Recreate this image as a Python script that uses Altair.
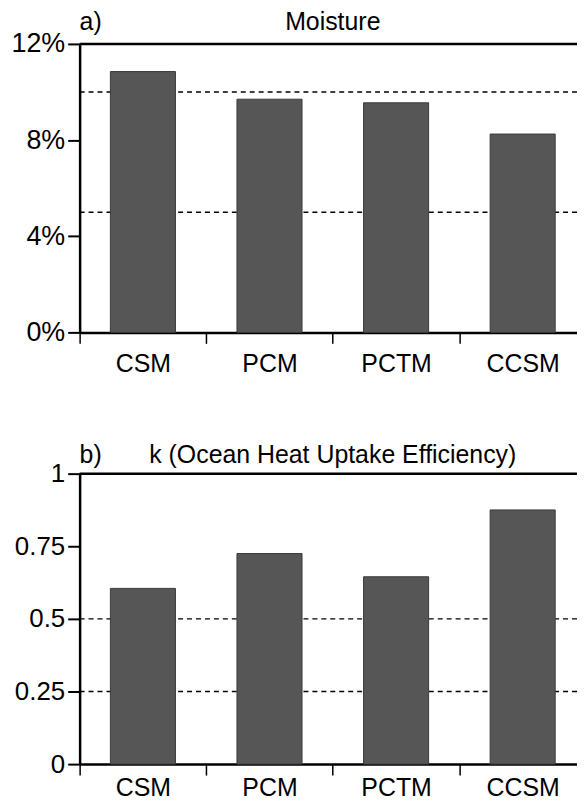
import altair as alt
import pandas as pd

models = ["CSM", "PCM", "PCTM", "CCSM"]
moisture = [10.85, 9.7, 9.55, 8.25]
kappa = [0.605, 0.725, 0.645, 0.875]
moisture_refs = [5, 10]
kappa_refs = [0.25, 0.5]
moisture_ticks = [0, 4, 8, 12]
kappa_ticks = [0, 0.25, 0.5, 0.75, 1]
panel_tags = ["a)", "b)"]
panel_titles = ["Moisture", "k (Ocean Heat Uptake Efficiency)"]

W = 509
FONT = "Liberation Sans"
P_IN = 0.486
HALF_GAP = P_IN * (W / 4) / 2


def panel(values, refs, ticks, ymax, tag, title, height, label_expr, lab_pad, yfs, ty):
    df = pd.DataFrame({"model": models, "value": values})
    y_scale = alt.Scale(domain=[0, ymax], nice=False, zero=True)
    x = alt.X(
        "model:N", sort=models, title=None,
        scale=alt.Scale(paddingInner=P_IN, paddingOuter=P_IN / 2),
        axis=alt.Axis(labelAngle=0, labelFontSize=25, labelPadding=lab_pad,
                      tickSize=11, tickWidth=1.5, bandPosition=0,
                      tickOffset=-HALF_GAP, labelOffset=HALF_GAP,
                      domainWidth=2.5, domainColor="black", tickColor="black",
                      labelColor="black", labelFont=FONT),
    )
    y_axis = alt.Axis(values=ticks, labelExpr=label_expr, grid=False, title=None,
                      tickSize=12, tickWidth=2, domainWidth=2.5,
                      domainColor="black", tickColor="black",
                      labelColor="black", labelFont=FONT,
                      labelPadding=3, labelFontSize=yfs,
                      minExtent=71, maxExtent=71)
    y = alt.Y("value:Q", scale=y_scale, axis=y_axis, title=None)
    rules = alt.Chart(pd.DataFrame({"value": refs})).mark_rule(
        strokeDash=[5, 4], strokeWidth=1.5, color="black"
    ).encode(y=y)
    top = alt.Chart(pd.DataFrame({"value": [ymax]})).mark_rule(
        strokeWidth=2.5, color="black"
    ).encode(y=y)
    bars = alt.Chart(df).mark_bar(
        fill="#565656", stroke="#3a3a3a", strokeWidth=1
    ).encode(x=x, y=y)
    tag_t = alt.Chart(pd.DataFrame({"t": [tag]})).mark_text(
        align="left", baseline="alphabetic", fontSize=25, font=FONT, color="black"
    ).encode(text="t:N", x=alt.value(0), y=alt.value(ty))
    title_t = alt.Chart(pd.DataFrame({"t": [title]})).mark_text(
        align="center", baseline="alphabetic", fontSize=25, font=FONT, color="black"
    ).encode(text="t:N", x=alt.value(W / 2), y=alt.value(ty))
    return alt.layer(rules, top, bars, tag_t, title_t).properties(width=W, height=height)


pa = panel(moisture, moisture_refs, moisture_ticks, 12, panel_tags[0], panel_titles[0],
           290, "datum.value + '%'", 8, 27, -14)
pb = panel(kappa, kappa_refs, kappa_ticks, 1, panel_tags[1], panel_titles[1],
           292, "format(datum.value, '~g')", 1, 26, -11)

chart = alt.vconcat(pa, pb, spacing=65).properties(
    padding={"left": 0, "top": -1, "right": -11, "bottom": 0}
).configure_view(stroke=None).configure(background="white")

chart.save("out.html", embed_options={"renderer": "svg", "actions": False})
